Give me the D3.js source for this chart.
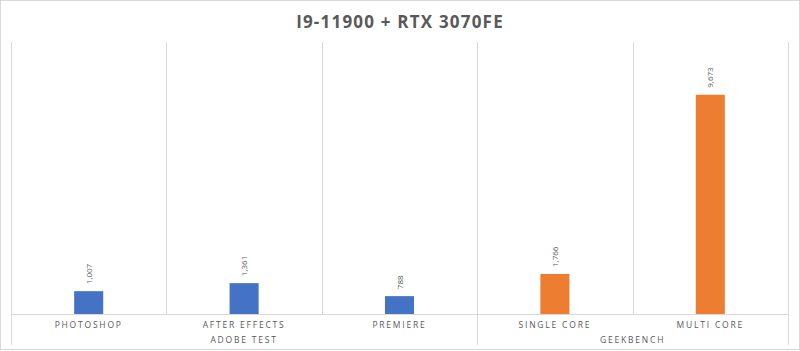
<!DOCTYPE html>
<html>
<head>
<meta charset="utf-8">
<script src="https://cdn.jsdelivr.net/npm/d3@7"></script>
<style>
  body { margin: 0; background: #fff; }
  svg { display: block; font-family: 'Open Sans', 'DejaVu Sans', sans-serif; }
</style>
</head>
<body>
<svg id="chart" width="800" height="351"></svg>
<script>
const categories = ['PHOTOSHOP', 'AFTER EFFECTS', 'PREMIERE', 'SINGLE CORE', 'MULTI CORE'];
const groups = ['ADOBE TEST', 'ADOBE TEST', 'ADOBE TEST', 'GEEKBENCH', 'GEEKBENCH'];
const values = [1007, 1361, 788, 1766, 9673];
const groupColors = { 'ADOBE TEST': '#4472C4', 'GEEKBENCH': '#ED7D31' };
const yMax = 12000;

const svg = d3.select('#chart');
const margin = { top: 42, right: 12, bottom: 37, left: 11 };
const width = 800, height = 351;
const innerW = width - margin.left - margin.right;
const innerH = height - margin.top - margin.bottom;

// outer frame
svg.append('rect')
  .attr('x', 0.5).attr('y', 0.5)
  .attr('width', width - 1).attr('height', height - 2)
  .attr('fill', '#fff').attr('stroke', '#d9d9d9');

svg.append('text')
  .attr('x', width / 2).attr('y', 28)
  .attr('text-anchor', 'middle')
  .attr('font-size', 17).attr('font-weight', 'bold')
  .attr('letter-spacing', 1.2)
  .attr('fill', '#595959')
  .text('I9-11900 + RTX 3070FE');

const g = svg.append('g').attr('transform', `translate(${margin.left},${margin.top})`);

const x = d3.scaleBand().domain(categories).range([0, innerW]);
const y = d3.scaleLinear().domain([0, yMax]).range([innerH, 0]);

// category separators
const bounds = categories.map((c) => x(c)).concat([innerW]);
g.selectAll('line.sep')
  .data(bounds)
  .join('line')
  .attr('class', 'sep')
  .attr('x1', (d) => Math.round(d) + 0.5).attr('x2', (d) => Math.round(d) + 0.5)
  .attr('y1', 0)
  .attr('y2', (d, i) => (i === 0 || i === bounds.length - 1 || groups[i] !== groups[i - 1]) ? innerH + 31 : innerH)
  .attr('stroke', '#d9d9d9').attr('stroke-width', 1);

// baseline
g.append('line')
  .attr('x1', 0).attr('x2', innerW)
  .attr('y1', innerH + 0.5).attr('y2', innerH + 0.5)
  .attr('stroke', '#d9d9d9');

const barW = x.bandwidth() * 0.187;

g.selectAll('rect.bar')
  .data(values)
  .join('rect')
  .attr('class', 'bar')
  .attr('x', (d, i) => x(categories[i]) + x.bandwidth() / 2 - barW / 2)
  .attr('y', (d) => y(d))
  .attr('width', barW)
  .attr('height', (d) => innerH - y(d))
  .attr('fill', (d, i) => groupColors[groups[i]]);

g.selectAll('text.val')
  .data(values)
  .join('text')
  .attr('class', 'val')
  .attr('transform', (d, i) => `translate(${x(categories[i]) + x.bandwidth() / 2 + 3},${y(d) - 7}) rotate(-90)`)
  .attr('font-size', 8).attr('fill', '#595959')
  .text((d) => d3.format(',')(d));

g.selectAll('text.cat')
  .data(categories)
  .join('text')
  .attr('class', 'cat')
  .attr('x', (d) => x(d) + x.bandwidth() / 2)
  .attr('y', innerH + 14)
  .attr('text-anchor', 'middle')
  .attr('font-size', 8.5).attr('letter-spacing', 1.8)
  .attr('fill', '#595959')
  .text((d) => d);

const groupNames = Array.from(new Set(groups));
g.selectAll('text.grp')
  .data(groupNames)
  .join('text')
  .attr('class', 'grp')
  .attr('x', (gName) => {
    const idx = categories.filter((c, i) => groups[i] === gName);
    return (x(idx[0]) + x(idx[idx.length - 1]) + x.bandwidth()) / 2;
  })
  .attr('y', innerH + 29)
  .attr('text-anchor', 'middle')
  .attr('font-size', 8.5).attr('letter-spacing', 1.8)
  .attr('fill', '#595959')
  .text((d) => d);
</script>
</body>
</html>
